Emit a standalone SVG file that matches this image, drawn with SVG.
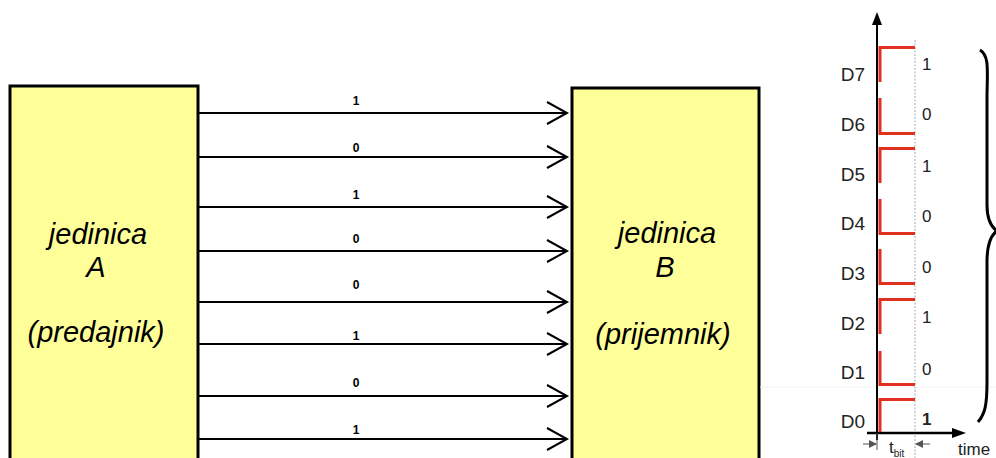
<svg xmlns="http://www.w3.org/2000/svg" width="996" height="458" viewBox="0 0 996 458">
<style>
.box{fill:#ffff99;stroke:#000;stroke-width:3}
.unit{font-family:"Liberation Sans",Arial,sans-serif;font-style:italic;font-size:29px;fill:#000;text-anchor:middle}
.wire{stroke:#000;stroke-width:2;fill:none}
.head{stroke:#000;stroke-width:2;fill:none}
.bit{font-family:"Liberation Sans",Arial,sans-serif;font-weight:bold;font-size:12px;fill:#000;text-anchor:middle}
.dl{font-family:"Liberation Sans",Arial,sans-serif;font-size:19px;fill:#222;text-anchor:end}
.bv{font-family:"Liberation Sans",Arial,sans-serif;font-size:17px;fill:#222}
.sig{stroke:#e03020;stroke-width:3;fill:none}
</style>
<defs>
<marker id="tri" markerWidth="8" markerHeight="8" refX="7" refY="4" orient="auto" markerUnits="userSpaceOnUse"><path d="M0,0 L8,4 L0,8 Z" fill="#555"/></marker>
</defs>
<rect width="996" height="458" fill="#fff"/>
<g id="unitA">
<rect class="box" x="10" y="86" width="188" height="400"/>
<text class="unit" x="98" y="244">jedinica</text>
<text class="unit" x="96" y="277">A</text>
<text class="unit" x="96" y="342">(predajnik)</text>
</g>
<g id="unitB">
<rect class="box" x="572" y="88" width="187" height="400"/>
<text class="unit" x="667" y="243">jedinica</text>
<text class="unit" x="665" y="277">B</text>
<text class="unit" x="663" y="344">(prijemnik)</text>
</g>
<g id="connectors">
<g class="wire">
<line x1="198" y1="113" x2="566" y2="113"/>
<line x1="198" y1="157" x2="566" y2="157"/>
<line x1="198" y1="207" x2="566" y2="207"/>
<line x1="198" y1="251" x2="566" y2="251"/>
<line x1="198" y1="302" x2="566" y2="302"/>
<line x1="198" y1="344" x2="566" y2="344"/>
<line x1="198" y1="396" x2="566" y2="396"/>
<line x1="198" y1="439" x2="566" y2="439"/>
</g>
<g class="head">
<path d="M547,102 L567,113 L547,124"/>
<path d="M547,146 L567,157 L547,168"/>
<path d="M547,196 L567,207 L547,218"/>
<path d="M547,240 L567,251 L547,262"/>
<path d="M547,291 L567,302 L547,313"/>
<path d="M547,333 L567,344 L547,355"/>
<path d="M547,385 L567,396 L547,407"/>
<path d="M547,428 L567,439 L547,450"/>
</g>
<text class="bit" x="356" y="105">1</text>
<text class="bit" x="356" y="152">0</text>
<text class="bit" x="356" y="199">1</text>
<text class="bit" x="356" y="243">0</text>
<text class="bit" x="356" y="289">0</text>
<text class="bit" x="356" y="340">1</text>
<text class="bit" x="356" y="387">0</text>
<text class="bit" x="356" y="434">1</text>
</g>
<g id="timing">
<line x1="760" y1="387" x2="996" y2="387" stroke="#f2f2f2" stroke-width="1"/>
<line x1="915" y1="40" x2="915" y2="458" stroke="#aaa" stroke-width="1" stroke-dasharray="2,1.5"/>
<line x1="877" y1="440" x2="877" y2="22" stroke="#000" stroke-width="2"/>
<path d="M877,12 L882,25 L872,25 Z" fill="#000"/>
<line x1="867" y1="433" x2="954" y2="433" stroke="#000" stroke-width="2.5"/>
<path d="M966,433 L952,428 L952,438 Z" fill="#000"/>
<path class="sig" d="M880,82 V47.5 H915"/>
<path class="sig" d="M880,98 V133.5 H915"/>
<path class="sig" d="M880,183 V148.5 H915"/>
<path class="sig" d="M880,199 V233.5 H915"/>
<path class="sig" d="M880,249 V283.5 H915"/>
<path class="sig" d="M880,334 V299.5 H915"/>
<path class="sig" d="M880,351 V384.5 H915"/>
<path class="sig" d="M880,432 V399.5 H915"/>
<text class="dl" x="865" y="81">D7</text>
<text class="dl" x="865" y="131">D6</text>
<text class="dl" x="865" y="181">D5</text>
<text class="dl" x="865" y="230">D4</text>
<text class="dl" x="865" y="280">D3</text>
<text class="dl" x="865" y="330">D2</text>
<text class="dl" x="865" y="379">D1</text>
<text class="dl" x="865" y="428">D0</text>
<text class="bv" x="922" y="70">1</text>
<text class="bv" x="922" y="120">0</text>
<text class="bv" x="922" y="172">1</text>
<text class="bv" x="922" y="222">0</text>
<text class="bv" x="922" y="273">0</text>
<text class="bv" x="922" y="323">1</text>
<text class="bv" x="922" y="375">0</text>
<text class="bv" x="922" y="425" font-weight="bold">1</text>
<path d="M980,50 C990,56 987,72 987,100 L987,205 C987,218 990,226 997,231 C990,236 987,246 987,262 L987,382 C987,405 985,414 978,422" fill="none" stroke="#000" stroke-width="3"/>
<line x1="877" y1="433" x2="877" y2="450" stroke="#555" stroke-width="1"/>
<line x1="863" y1="444" x2="876" y2="444" stroke="#555" stroke-width="1" marker-end="url(#tri)"/>
<line x1="930" y1="444" x2="916" y2="444" stroke="#555" stroke-width="1" marker-end="url(#tri)"/>
<text x="889" y="453" font-family="Liberation Sans,Arial,sans-serif" font-size="17" fill="#222">t<tspan font-size="10" dy="4">bit</tspan></text>
<text x="958" y="455" font-family="Liberation Sans,Arial,sans-serif" font-size="17" fill="#222">time</text>
</g>
</svg>
